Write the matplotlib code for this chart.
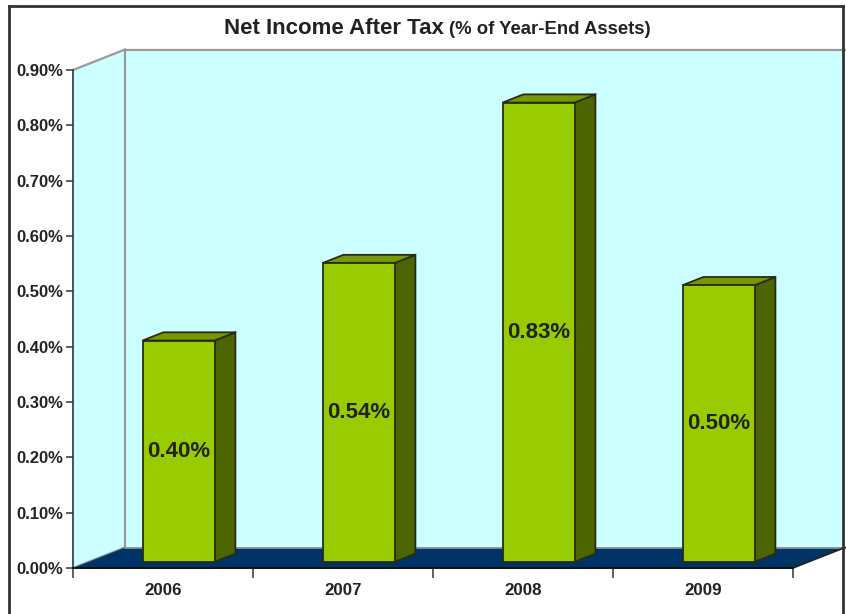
import matplotlib
matplotlib.use("Agg")
import matplotlib.pyplot as plt
from matplotlib.patches import Polygon
from matplotlib.lines import Line2D

plt.rcParams['font.family'] = ['Liberation Sans', 'DejaVu Sans']

categories = ['2006', '2007', '2008', '2009']
values = [0.40, 0.54, 0.83, 0.50]
value_labels = ['0.40%', '0.54%', '0.83%', '0.50%']
yticks = [0.0, 0.1, 0.2, 0.3, 0.4, 0.5, 0.6, 0.7, 0.8, 0.9]
ytick_labels = ['0.00%', '0.10%', '0.20%', '0.30%', '0.40%', '0.50%',
                '0.60%', '0.70%', '0.80%', '0.90%']

W, H = 846, 614
fig = plt.figure(figsize=(W / 100, H / 100), dpi=100)
fig.patch.set_facecolor('white')

ax = fig.add_axes([73 / W, (H - 568) / H, 720 / W, 498 / H])
ax.set_xlim(0, 4)
ax.set_ylim(0, 0.9)
ax.patch.set_visible(False)

DX = 52 / 180.0
DY = 20.5 / (498 / 0.9)
YMAX = 0.9
n = len(categories)

wall_c = '#CCFFFF'
grid_c = '#999999'
# back wall
ax.add_patch(Polygon([(DX, DY), (n + DX, DY), (n + DX, YMAX + DY), (DX, YMAX + DY)],
                     closed=True, facecolor=wall_c, edgecolor='none', zorder=1, clip_on=False))
# left wall
ax.add_patch(Polygon([(0, 0), (DX, DY), (DX, YMAX + DY), (0, YMAX)],
                     closed=True, facecolor=wall_c, edgecolor='none', zorder=1, clip_on=False))
for xs, ys in [([0, DX], [YMAX, YMAX + DY]), ([DX, n + DX], [YMAX + DY, YMAX + DY]),
               ([DX, DX], [DY, YMAX + DY]), ([0, DX], [0, DY])]:
    ax.add_line(Line2D(xs, ys, color=grid_c, lw=1.6, zorder=2, clip_on=False))
# floor
ax.add_patch(Polygon([(0, 0), (n, 0), (n + DX, DY), (DX, DY)],
                     closed=True, facecolor='#003366', edgecolor='none', zorder=2, clip_on=False))
ax.add_line(Line2D([n, n + DX], [0, DY], color='#222222', lw=1.2, zorder=3, clip_on=False))
ax.add_line(Line2D([DX, n + DX], [DY, DY], color=grid_c, lw=1.2, zorder=2.5, clip_on=False))

# bars
z0, z1 = 0.3, 0.7
bw = 0.4
front_c = '#99CC00'
top_c = '#779900'
side_c = '#4B6600'
edge_c = '#2A2A1A'
for i, v in enumerate(values):
    x0 = i + 0.5 - bw / 2 + z0 * DX
    x1 = x0 + bw
    yb = z0 * DY
    ddx = (z1 - z0) * DX
    ddy = (z1 - z0) * DY
    ax.add_patch(Polygon([(x1, yb), (x1 + ddx, yb + ddy), (x1 + ddx, yb + v + ddy), (x1, yb + v)],
                         closed=True, facecolor=side_c, edgecolor=edge_c, lw=1.3, zorder=4,
                         joinstyle='miter', clip_on=False))
    ax.add_patch(Polygon([(x0, yb + v), (x1, yb + v), (x1 + ddx, yb + v + ddy), (x0 + ddx, yb + v + ddy)],
                         closed=True, facecolor=top_c, edgecolor=edge_c, lw=1.3, zorder=4,
                         joinstyle='miter', clip_on=False))
    ax.bar(x0, v, width=bw, bottom=yb, align='edge', color=front_c, edgecolor=edge_c,
           linewidth=1.3, zorder=5, clip_on=False)
    ax.text((x0 + x1) / 2, yb + v / 2, value_labels[i], ha='center', va='center',
            fontsize=16, fontweight='bold', color='#222222', zorder=6)

# axes / ticks
for s in ['top', 'right']:
    ax.spines[s].set_visible(False)
ax.spines['left'].set_color('#333333')
ax.spines['left'].set_linewidth(1.2)
ax.spines['bottom'].set_color('#111111')
ax.spines['bottom'].set_linewidth(1.4)
ax.spines['left'].set_zorder(7)
ax.spines['bottom'].set_zorder(7)

ax.set_yticks(yticks)
ax.set_yticklabels(ytick_labels)
ax.tick_params(axis='y', direction='out', length=5, width=1.1, color='#333333',
               labelsize=12, pad=2, labelcolor='#222222')
for t in ax.get_yticklabels():
    t.set_fontweight('bold')

ax.set_xticks(range(n + 1))
ax.set_xticklabels([''] * (n + 1))
ax.set_xticks([i + 0.5 for i in range(n)], minor=True)
ax.set_xticklabels(categories, minor=True)
ax.tick_params(axis='x', which='major', direction='out', length=7, width=1.1, color='#333333')
ax.tick_params(axis='x', which='minor', length=0, labelsize=12.2, pad=11, labelcolor='#222222')
for t in ax.get_xticklabels(minor=True):
    t.set_fontweight('bold')

# title
ty = (H - 34) / H
fig.text(444 / W, ty, 'Net Income After Tax', ha='right', va='baseline',
         fontsize=16, fontweight='bold', color='#222222')
fig.text(449 / W, ty, '(% of Year-End Assets)', ha='left', va='baseline',
         fontsize=13.3, fontweight='bold', color='#222222')

# outer frame
fig.add_artist(Line2D([9 / W, 9 / W], [0, (H - 6) / H], color='#333333', lw=2, transform=fig.transFigure))
fig.add_artist(Line2D([9 / W, 843 / W], [(H - 6) / H, (H - 6) / H], color='#333333', lw=2, transform=fig.transFigure))
fig.add_artist(Line2D([843 / W, 843 / W], [0, (H - 6) / H], color='#333333', lw=2, transform=fig.transFigure))

fig.savefig('out.png', dpi=100)
